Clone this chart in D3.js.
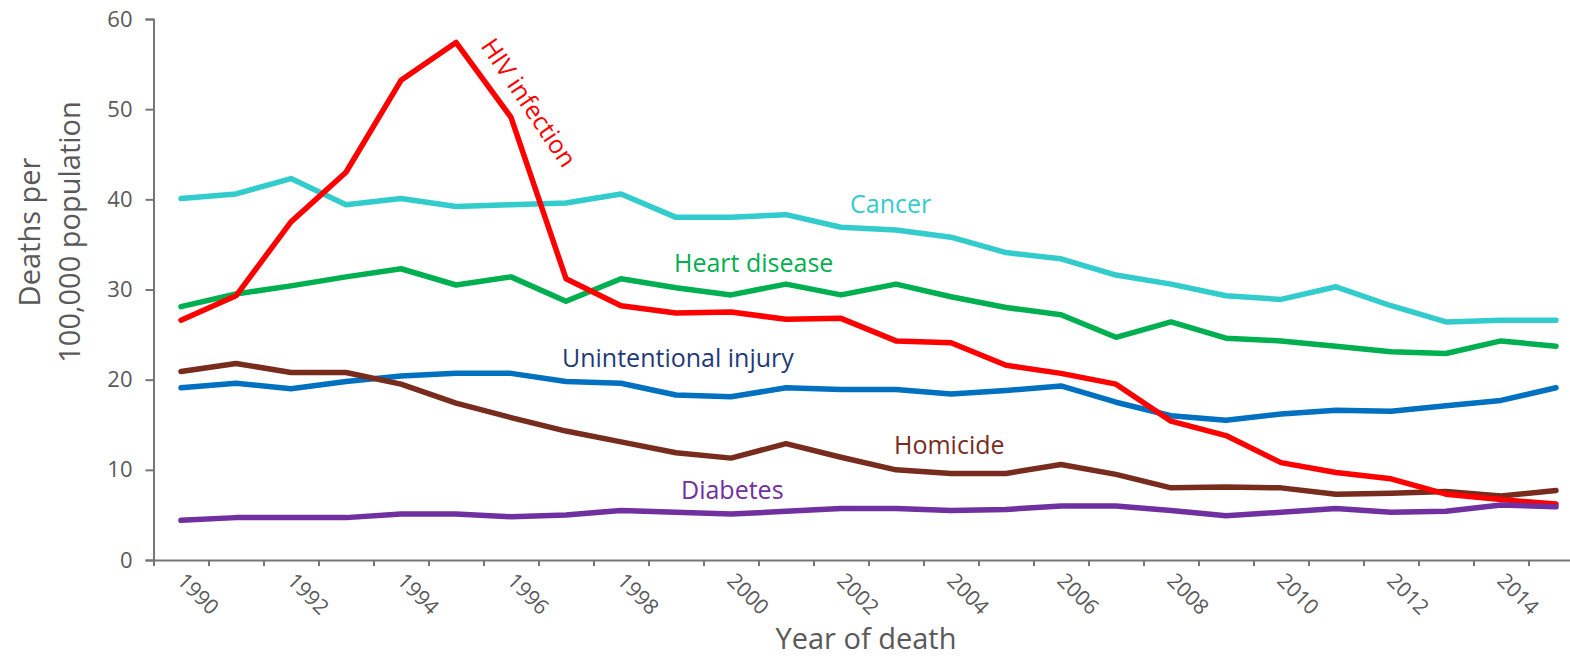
<!DOCTYPE html>
<html>
<head>
<meta charset="utf-8">
<script src="https://cdn.jsdelivr.net/npm/d3@7"></script>
<style>
  body { margin: 0; background: #fff; }
  svg { display: block; font-family: "Open Sans", sans-serif; }
</style>
</head>
<body>
<div id="chart"></div>
<script>
// values, deaths per 100,000
var years = d3.range(1990, 2016)
var yTicks = [0, 10, 20, 30, 40, 50, 60]
var yearLabels = [1990, 1992, 1994, 1996, 1998, 2000, 2002, 2004, 2006, 2008, 2010, 2012, 2014]

var cancer   = [40.1, 40.6, 42.3, 39.4, 40.1, 39.2, 39.4, 39.6, 40.6, 38.0, 38.0, 38.3, 36.9, 36.6, 35.8, 34.1, 33.4, 31.6, 30.6, 29.3, 28.9, 30.3, 28.2, 26.4, 26.6, 26.6]
var heart    = [28.1, 29.5, 30.4, 31.4, 32.3, 30.5, 31.4, 28.7, 31.2, 30.2, 29.4, 30.6, 29.4, 30.6, 29.2, 28.0, 27.2, 24.7, 26.4, 24.6, 24.3, 23.7, 23.1, 22.9, 24.3, 23.7]
var injury   = [19.1, 19.6, 19.0, 19.8, 20.4, 20.7, 20.7, 19.8, 19.6, 18.3, 18.1, 19.1, 18.9, 18.9, 18.4, 18.8, 19.3, 17.5, 16.0, 15.5, 16.2, 16.6, 16.5, 17.1, 17.7, 19.1]
var hiv      = [26.6, 29.3, 37.5, 43.0, 53.2, 57.4, 49.1, 31.2, 28.2, 27.4, 27.5, 26.7, 26.8, 24.3, 24.1, 21.6, 20.7, 19.5, 15.4, 13.8, 10.8, 9.7, 9.0, 7.3, 6.7, 6.2]
var homicide = [20.9, 21.8, 20.8, 20.8, 19.5, 17.4, 15.8, 14.3, 13.1, 11.9, 11.3, 12.9, 11.4, 10.0, 9.6, 9.6, 10.6, 9.5, 8.0, 8.1, 8.0, 7.3, 7.4, 7.6, 7.1, 7.7]
var diabetes = [4.4, 4.7, 4.7, 4.7, 5.1, 5.1, 4.8, 5.0, 5.5, 5.3, 5.1, 5.4, 5.7, 5.7, 5.5, 5.6, 6.0, 6.0, 5.5, 4.9, 5.3, 5.7, 5.3, 5.4, 6.1, 5.9]

// drawing order matters a bit where lines cross
var series = [
    {name: "Cancer", values: cancer, color: "#33CCCC", label: "#33CCCC", lx: 850, ly: 213},
    {name: "Heart disease", values: heart, color: "#00B050", label: "#00B050", lx: 674, ly: 272},
    {name: "Unintentional injury", values: injury, color: "#0070C0", label: "#1F3A78", lx: 562, ly: 367},
    {name: "Homicide", values: homicide, color: "#772C1E", label: "#772C1E", lx: 894, ly: 454},
    {name: "HIV infection", values: hiv, color: "#FF0000", label: "#FF0000", lx: 480, ly: 46, rot: 56},
    {name: "Diabetes", values: diabetes, color: "#7030A0", label: "#7030A0", lx: 681, ly: 499}
]

var width = 1570, height = 659
var svg = d3.select("#chart").append("svg")
    .attr("width", width)
    .attr("height", height)

var x = d3.scaleLinear().domain([1989.5, 2015.5]).range([153.5, 1583.5])
var y = d3.scaleLinear().domain([0, 60]).range([560, 19])

var axisColor = "#767676"
var textColor = "#595959"

// y axis
var gy = svg.append("g")
    .attr("transform", "translate(" + x(1989.5) + ",0)")
    .call(d3.axisLeft(y).tickValues(yTicks).tickSize(8).tickPadding(13))
gy.select(".domain").attr("stroke", axisColor).attr("stroke-width", 2)
gy.selectAll(".tick line").attr("stroke", axisColor).attr("stroke-width", 2)
gy.selectAll(".tick text")
    .attr("fill", textColor)
    .style("font-size", "22px")
    .style("font-family", "Open Sans, sans-serif")

// x axis, ticks sit between the years
var bounds = d3.range(1989.5, 2016, 1)
var gx = svg.append("g")
    .attr("transform", "translate(0," + y(0) + ")")
    .call(d3.axisBottom(x).tickValues(bounds).tickSize(6).tickSizeOuter(0).tickFormat(""))
gx.select(".domain").attr("stroke", axisColor).attr("stroke-width", 2)
gx.selectAll(".tick line").attr("stroke", axisColor).attr("stroke-width", 2)

svg.append("g").selectAll("text")
    .data(yearLabels)
    .enter().append("text")
        .attr("transform", function(d){ return "translate(" + (x(d) - 5) + "," + 582 + ") rotate(45)" })
        .attr("fill", textColor)
        .style("font-size", "21px")
        .text(function(d){ return d })

// axis titles
svg.append("text")
    .attr("x", 866)
    .attr("y", 649)
    .attr("text-anchor", "middle")
    .attr("fill", textColor)
    .style("font-size", "29px")
    .text("Year of death")

var ytitle = svg.append("text")
    .attr("transform", "translate(0,232) rotate(-90)")
    .attr("text-anchor", "middle")
    .attr("fill", textColor)
    .style("font-size", "29px")
ytitle.append("tspan").attr("x", 0).attr("y", 40).text("Deaths per")
ytitle.append("tspan").attr("x", 0).attr("y", 80).text("100,000 population")

// lines
var line = d3.line()
    .x(function(d, i){ return x(years[i]) })
    .y(function(d){ return y(d) })

svg.append("g").selectAll("path")
    .data(series)
    .enter().append("path")
        .attr("d", function(d){ return line(d.values) })
        .attr("fill", "none")
        .attr("stroke", function(d){ return d.color })
        .attr("stroke-width", 5.5)
        .attr("stroke-linejoin", "round")
        .attr("stroke-linecap", "round")

// direct labels
svg.append("g").selectAll("text")
    .data(series)
    .enter().append("text")
        .attr("transform", function(d){
            return "translate(" + d.lx + "," + d.ly + ")" + (d.rot ? " rotate(" + d.rot + ")" : "")
        })
        .attr("fill", function(d){ return d.label })
        .style("font-size", "25px")
        .text(function(d){ return d.name })
</script>
</body>
</html>
